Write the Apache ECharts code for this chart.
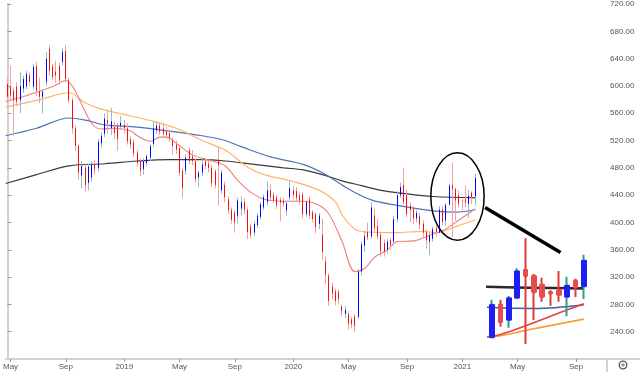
<!DOCTYPE html>
<html><head><meta charset="utf-8">
<script src="https://cdn.jsdelivr.net/npm/echarts/dist/echarts.min.js"></script>
<style>html,body{margin:0;padding:0;background:#fff}#c{width:640px;height:372px}</style>
</head><body><div id="c"></div>
<script>
// ---- axis definitions ----
const startWeek = '2018-04-30';   // Monday of week index 0
const weekCount = 185;            // weeks shown on the time axis
const tickWeeks = [1, 18, 36, 53, 70, 88, 105, 123, 140, 157, 175];
const tickNames = ['May', 'Sep', '2019', 'May', 'Sep', '2020', 'May', 'Sep', '2021', 'May', 'Sep'];
const priceMin = 200, priceMax = 720, priceStep = 40;

// ---- weekly candles [open, close, low, high] ----
const weeklyOHLC = [
[603,584,575,612],[599,586,579,630],[593,579,527,598],[599,577,570,605],[579,600,560,621],
[596,610,590,615],[599,618,595,622],[615,606,600,620],[599,628,595,632],[629,593,585,635],
[592,584,575,612],[584,592,560,595],[606,640,600,650],[654,622,615,660],[628,613,608,632],
[621,615,605,637],[629,608,602,634],[635,650,630,655],[651,610,605,660],[608,579,575,612],
[579,538,530,583],[538,512,505,542],[512,473,462,515],[469,483,450,490],[480,455,445,485],
[458,482,447,486],[466,485,460,490],[485,478,470,492],[480,518,475,522],[516,527,510,532],
[530,552,525,560],[550,545,530,565],[538,548,528,568],[540,531,522,548],[542,522,505,546],
[541,546,536,556],[543,538,530,550],[538,519,514,545],[522,514,508,527],[518,501,496,522],
[502,487,482,506],[490,476,468,494],[478,490,470,494],[487,497,483,500],[495,512,490,515],
[515,538,510,548],[535,542,530,548],[542,533,528,547],[538,530,525,545],[534,528,522,540],
[531,524,518,536],[520,512,499,524],[514,507,500,520],[509,473,468,512],[476,451,436,480],
[476,495,470,500],[506,490,485,510],[497,490,484,506],[490,463,458,494],[466,473,452,476],
[473,485,468,495],[490,483,478,494],[486,480,474,490],[480,458,452,484],[475,455,450,478],
[492,484,425,510],[447,473,442,477],[455,437,430,460],[434,418,412,438],[418,404,398,422],
[415,400,385,418],[410,432,398,436],[420,430,410,438],[430,418,412,436],[418,386,376,422],
[394,382,376,398],[385,398,380,402],[396,410,392,414],[408,427,404,430],[422,437,418,441],
[430,447,425,460],[447,437,433,456],[440,432,428,444],[437,425,420,441],[433,429,402,437],
[432,428,423,436],[418,428,410,432],[437,450,432,460],[447,440,434,453],[446,436,430,452],
[440,432,426,444],[441,412,406,444],[412,430,408,433],[434,410,405,438],[415,405,400,418],
[412,393,384,415],[398,410,390,414],[382,357,345,405],[343,324,310,350],[322,285,278,326],
[306,296,288,312],[299,285,279,303],[298,288,280,302],[277,270,262,280],[266,272,260,278],
[266,252,243,270],[258,251,245,262],[262,248,240,266],[262,328,258,332],[328,368,322,372],
[366,380,357,388],[386,378,374,400],[380,422,376,430],[410,392,385,420],[395,380,375,405],
[382,358,350,386],[370,357,350,375],[360,372,354,376],[374,367,360,378],[372,405,366,410],
[405,440,400,446],[440,452,436,458],[455,430,425,480],[440,412,408,448],[425,418,400,430],
[420,406,398,424],[406,414,400,418],[410,397,390,414],[398,385,378,403],[386,374,362,390],
[372,381,352,385],[376,390,372,394],[392,386,380,396],[385,419,384,424],[419,401,396,424],
[403,426,395,428],[426,454,425,457],[455,449,378,488],[449,432,403,451],[440,427,422,447],
[432,431,418,434],[434,429,422,454],[427,439,407,448],[444,437,427,446],[438,465,425,471]
];

// ---- moving averages: [week index, value] ----
const maFast = [[-0.5,577],[6,586],[14,599],[18,608],[20,600],[22,582],[26,545],[29,537],[33,538],[38,534],[40,527],[44,519],[47,525],[49,525],[52,516],[57,499],[63,490],[67,483],[71,461],[75,444],[79,434],[86,431],[91,431],[96,425],[99,412],[103,372],[107,328],[110,333],[113,349],[117,360],[120,372],[125,373],[131,383],[134,388],[137,397],[140,407],[144,420]];
const maMid = [[-0.5,569],[10,580],[19,590],[24,575],[29,566],[38,556],[45,548],[52,538],[60,520],[67,506],[74,481],[79,470],[88,460],[96,447],[101,430],[103,411],[107,390],[111,386],[119,385],[128,387],[132,385],[138,394],[144,404]];
const maSlow = [[-0.5,527],[9,538],[19,553],[24,550],[30,543],[39,540],[48,535],[60,527],[67,520],[72,511],[81,496],[91,485],[98,470],[105,449],[112,433],[120,425],[131,417],[138,415],[144,419]];
const maLong = [[-0.5,457],[9,470],[19,483],[30,486],[40,490],[50,492],[60,492],[67,490],[76,485],[85,480],[91,477],[97,470],[103,461],[109,454],[115,447],[121,443],[131,438],[144,436]];

// ---- annotation + inset ----
const insetFirst = 133, insetLast = 144;
const insetMin = 375, insetMax = 490;
const ellipseCenter = [138.5, 438], ellipseHalfWeeks = 8.2, ellipseHalfValue = 64;
const arrowFrom = [147, 422], arrowTo = [170.2, 356];

// ---- build ----
const categories = [];
{
  const d0 = new Date(startWeek + 'T00:00:00Z');
  for (let i = 0; i < weekCount; i++) {
    const d = new Date(d0.getTime() + i * 7 * 86400000);
    categories.push(d.toISOString().slice(0, 10));
  }
}
const tickSet = {};
tickWeeks.forEach((w, k) => tickSet[w] = tickNames[k]);
const isTick = (idx) => tickSet[idx] !== undefined;

const bodies = weeklyOHLC.map(r => [r[0], r[1], Math.min(r[0], r[1]), Math.max(r[0], r[1])]);
const insetCats = categories.slice(insetFirst, insetLast + 1);
const insetOHLC = weeklyOHLC.slice(insetFirst, insetLast + 1);
const insetBodies = bodies.slice(insetFirst, insetLast + 1);

const FONT = 'Liberation Sans';
const maColors = {fast: '#f07f7f', mid: '#ffb466', slow: '#4f73b8', long: '#3a3a3a'};

function maLine(data, color, width, xi, yi, z) {
  return {type: 'line', data: data, xAxisIndex: xi, yAxisIndex: yi, symbol: 'none', smooth: 0.35,
    lineStyle: {color: color, width: width}, z: z, silent: true, clip: true};
}

const chart = echarts.init(document.getElementById('c'), null, {renderer: 'canvas'});
const option = {
  animation: false,
  backgroundColor: '#ffffff',
  grid: [
    {left: 0, right: 33, top: 0, height: 359},
    {left: 488, top: 236.4, width: 100, height: 110.6}
  ],
  xAxis: [
    {type: 'category', gridIndex: 0, data: categories, boundaryGap: true,
     axisLine: {show: true, lineStyle: {color: '#d2d2d2', width: 2}},
     axisTick: {show: true, interval: (i) => isTick(i), alignWithLabel: true, length: 3, lineStyle: {color: '#9a9a9a'}},
     axisLabel: {interval: (i) => isTick(i), formatter: (v, i) => tickSet[i] || '', fontSize: 8, color: '#555', margin: 4, fontFamily: FONT},
     splitLine: {show: false}},
    {type: 'value', gridIndex: 0, min: -0.5, max: weekCount - 0.5, show: false},
    {type: 'category', gridIndex: 1, data: insetCats, show: false, boundaryGap: true},
    {type: 'value', gridIndex: 1, min: insetFirst - 0.5, max: insetLast + 0.5, show: false}
  ],
  yAxis: [
    {type: 'value', gridIndex: 0, position: 'right', min: priceMin, max: priceMax, interval: priceStep,
     axisLine: {show: true, lineStyle: {color: '#d2d2d2', width: 2}},
     axisTick: {show: true, length: 4, lineStyle: {color: '#9a9a9a'}},
     axisLabel: {showMinLabel: false, formatter: (v) => v.toFixed(2), fontSize: 8, color: '#555', margin: 3, fontFamily: FONT},
     splitLine: {show: false}},
    {type: 'value', gridIndex: 1, min: insetMin, max: insetMax, show: false, splitLine: {show: false}}
  ],
  series: [
    maLine(maLong, maColors.long, 1.2, 1, 0, 1),
    maLine(maSlow, maColors.slow, 1.2, 1, 0, 1),
    maLine(maMid, maColors.mid, 1.2, 1, 0, 1),
    maLine(maFast, maColors.fast, 1.1, 1, 0, 1),
    {type: 'candlestick', xAxisIndex: 0, yAxisIndex: 0, data: weeklyOHLC, barWidth: 1, z: 2, silent: true,
     itemStyle: {color: '#93bfb5', color0: '#f2a0a0', borderColor: '#93bfb5', borderColor0: '#f2a0a0', borderWidth: 1}},
    {type: 'candlestick', xAxisIndex: 0, yAxisIndex: 0, data: bodies, barWidth: 1, z: 3, silent: true,
     itemStyle: {color: '#0000ff', color0: '#f01010', borderColor: '#0000ff', borderColor0: '#f01010', borderWidth: 1}},
    // inset
    maLine(maLong, '#2a2a2a', 2.6, 3, 1, 4),
    maLine(maSlow, '#3b5ea8', 1.6, 3, 1, 4),
    maLine(maMid, '#f5a030', 1.6, 3, 1, 4),
    maLine(maFast, '#e8403c', 1.6, 3, 1, 4),
    {type: 'candlestick', xAxisIndex: 2, yAxisIndex: 1, data: insetOHLC, barWidth: 2, z: 5, silent: true,
     itemStyle: {color: '#2f9c8c', color0: '#e03a3a', borderColor: '#2f9c8c', borderColor0: '#e03a3a', borderWidth: 2}},
    {type: 'candlestick', xAxisIndex: 2, yAxisIndex: 1, data: insetBodies, barWidth: 5, z: 6, silent: true,
     itemStyle: {color: '#1e1ef5', color0: '#e84c4c', borderColor: '#1e1ef5', borderColor0: '#e84c4c', borderWidth: 1}}
  ]
};
chart.setOption(option);

// annotations positioned through the main grid's scales
const toPx = (pt) => chart.convertToPixel({xAxisIndex: 1, yAxisIndex: 0}, pt);
const ec = toPx(ellipseCenter);
const ee = toPx([ellipseCenter[0] + ellipseHalfWeeks, ellipseCenter[1] - ellipseHalfValue]);
const a0 = toPx(arrowFrom), a1 = toPx(arrowTo);
const axisCorner = toPx([weekCount - 0.5, priceMin]);
chart.setOption({
  graphic: [
    {type: 'ellipse', shape: {cx: ec[0], cy: ec[1], rx: Math.abs(ee[0] - ec[0]), ry: Math.abs(ee[1] - ec[1])},
     style: {fill: 'none', stroke: '#000', lineWidth: 1.5}, z: 10},
    {type: 'line', shape: {x1: a0[0], y1: a0[1], x2: a1[0], y2: a1[1]},
     style: {stroke: '#000', lineWidth: 3.5}, z: 10},
    {type: 'line', shape: {x1: axisCorner[0], y1: axisCorner[1], x2: axisCorner[0], y2: 372},
     style: {stroke: '#d2d2d2', lineWidth: 2}, z: 10},
    {type: 'line', shape: {x1: axisCorner[0], y1: axisCorner[1], x2: 640, y2: axisCorner[1]},
     style: {stroke: '#d2d2d2', lineWidth: 2}, z: 10},
    {type: 'circle', shape: {cx: 623, cy: 365, r: 3.8}, style: {fill: 'none', stroke: '#555', lineWidth: 1.3}, z: 10},
    {type: 'circle', shape: {cx: 623, cy: 365, r: 1.2}, style: {fill: '#fff', stroke: '#555', lineWidth: 0.8}, z: 10}
  ]
});
</script>
</body></html>
